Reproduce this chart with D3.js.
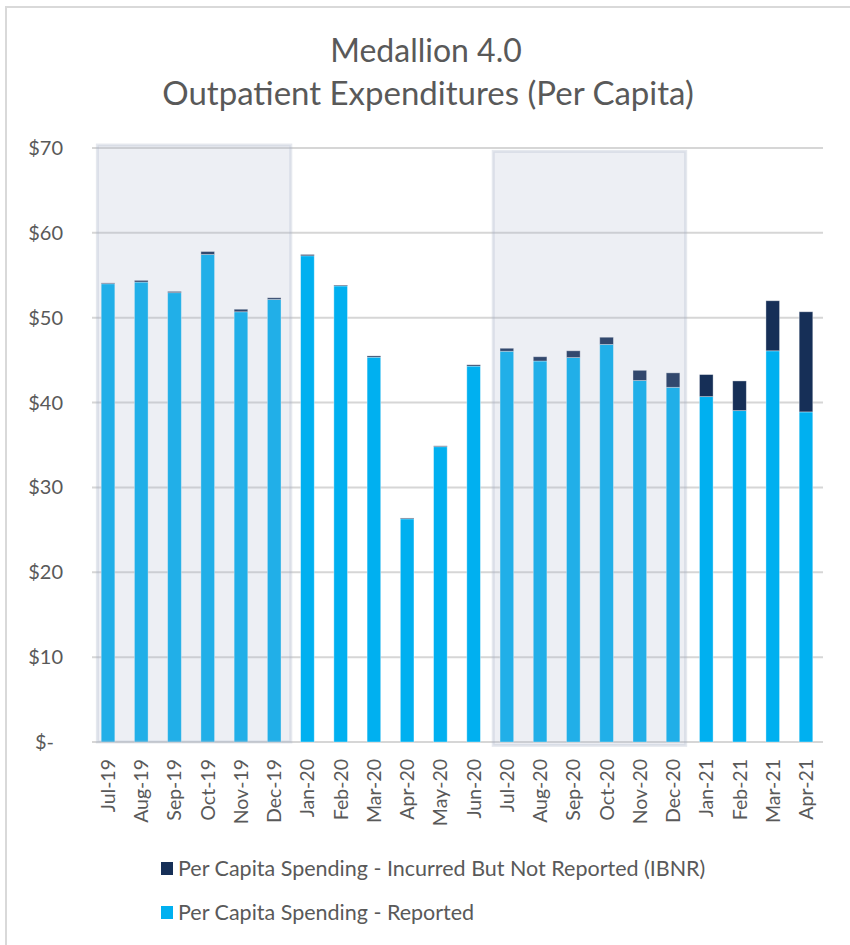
<!DOCTYPE html>
<html>
<head>
<meta charset="utf-8">
<script src="https://cdn.jsdelivr.net/npm/d3@7"></script>
<style>
  body { margin: 0; background: #fff; }
  text { font-family: Lato, "Open Sans", sans-serif; fill: #595959; }
</style>
</head>
<body>
<div id="chart"></div>
<script>
"use strict";

var months = ["Jul-19", "Aug-19", "Sep-19", "Oct-19", "Nov-19", "Dec-19", "Jan-20", "Feb-20", "Mar-20", "Apr-20", "May-20",
              "Jun-20", "Jul-20", "Aug-20", "Sep-20", "Oct-20", "Nov-20", "Dec-20", "Jan-21", "Feb-21", "Mar-21", "Apr-21"]
var reported = [54.0, 54.2, 52.95, 57.45, 50.7, 52.15, 57.3, 53.75, 45.35, 26.3, 34.8,
                44.3, 46.05, 44.9, 45.3, 46.85, 42.6, 41.8, 40.7, 39.05, 46.1, 38.9]
var ibnr = [0.1, 0.2, 0.15, 0.35, 0.3, 0.2, 0.15, 0.1, 0.15, 0.1, 0.1,
            0.15, 0.35, 0.5, 0.8, 0.85, 1.2, 1.7, 2.6, 3.5, 5.9, 11.8]
var yTicks = [0, 10, 20, 30, 40, 50, 60, 70]
var shaded = [["Jul-19", "Dec-19"], ["Jul-20", "Dec-20"]]

var width = 850,
    height = 945;

var svg = d3.select("#chart")
            .append("svg")
            .attr("width", width)
            .attr("height", height)

// chart frame (only top and left edges are visible)
svg.append("path")
   .attr("d", "M6,945 V7 H850")
   .attr("fill", "none")
   .attr("stroke", "#d9d9d9")
   .attr("stroke-width", 2)

svg.append("text")
   .attr("x", 426).attr("y", 62)
   .attr("text-anchor", "middle")
   .style("font-size", "32px")
   .text("Medallion 4.0")
svg.append("text")
   .attr("x", 428).attr("y", 105)
   .attr("text-anchor", "middle")
   .style("font-size", "33px")
   .text("Outpatient Expenditures (Per Capita)")

var x = d3.scaleBand()
          .domain(months)
          .range([91.4, 822.6])
          .paddingInner(0.59)
          .paddingOuter(0.295)

var y = d3.scaleLinear()
          .domain([0, 70])
          .range([742, 148])

var step = x.step()
function slotStart(m) { return x(m) - step * x.paddingInner() / 2 }

// gridlines
svg.append("g")
   .selectAll("line")
   .data(yTicks)
   .enter()
   .append("line")
   .attr("x1", 92).attr("x2", 823)
   .attr("y1", function(d) { return y(d) })
   .attr("y2", function(d) { return y(d) })
   .attr("stroke", "#d6d6d6")
   .attr("stroke-width", 2)

svg.append("g")
   .selectAll("text")
   .data(yTicks)
   .enter()
   .append("text")
   .attr("x", function(d) { return d === 0 ? 54 : 63 })
   .attr("y", function(d) { return y(d) + 7 })
   .attr("text-anchor", "end")
   .style("font-size", "20px")
   .text(function(d) { return d === 0 ? "$-" : "$" + d })

var rows = months.map(function(m, i) {
  return {month: m, reported: reported[i], ibnr: ibnr[i]}
})
var stack = d3.stack().keys(["reported", "ibnr"])(rows)
var colors = {reported: "#00b0f0", ibnr: "#162f57"}

svg.append("g")
   .selectAll("g")
   .data(stack)
   .enter()
   .append("g")
   .attr("fill", function(s) { return colors[s.key] })
   .selectAll("rect")
   .data(function(s) { return s })
   .enter()
   .append("rect")
   .attr("x", function(d) { return x(d.data.month) })
   .attr("width", x.bandwidth())
   .attr("y", function(d) { return y(d[1]) })
   .attr("height", function(d) { return y(d[0]) - y(d[1]) })
   .attr("stroke", "rgba(255,255,255,0.45)")
   .attr("stroke-width", 0.8)

// translucent highlight boxes drawn over the bars
svg.append("g")
   .selectAll("rect")
   .data(shaded)
   .enter()
   .append("rect")
   .attr("x", function(d, i) { return slotStart(d[0]) + (i === 0 ? 6 : 3) })
   .attr("width", function(d, i) { return slotStart(d[1]) + step - slotStart(d[0]) - (i === 0 ? 6 : 7) })
   .attr("y", function(d, i) { return i === 0 ? y(70.35) : y(69.6) })
   .attr("height", function(d, i) { return i === 0 ? y(0) - y(70.35) : y(-0.4) - y(69.6) })
   .attr("fill", "rgba(165,175,198,0.2)")
   .attr("stroke", "rgba(170,180,200,0.3)")
   .attr("stroke-width", 3)

svg.append("g")
   .selectAll("text")
   .data(months)
   .enter()
   .append("text")
   .attr("transform", function(d) { return "translate(" + (x(d) + x.bandwidth() / 2 + 7) + ",759) rotate(-90)" })
   .attr("text-anchor", "end")
   .style("font-size", "19.5px")
   .text(function(d) { return d })

var legend = [["Per Capita Spending - Incurred But Not Reported (IBNR)", colors.ibnr],
              ["Per Capita Spending - Reported", colors.reported]]
var lg = svg.append("g")
            .selectAll("g")
            .data(legend)
            .enter()
            .append("g")
            .attr("transform", function(d, i) { return "translate(161," + (862 + i * 44) + ")" })
lg.append("rect")
  .attr("width", 12).attr("height", 13)
  .attr("fill", function(d) { return d[1] })
lg.append("text")
  .attr("x", 17).attr("y", 14)
  .style("font-size", "21.5px")
  .text(function(d) { return d[0] })
</script>
</body>
</html>
